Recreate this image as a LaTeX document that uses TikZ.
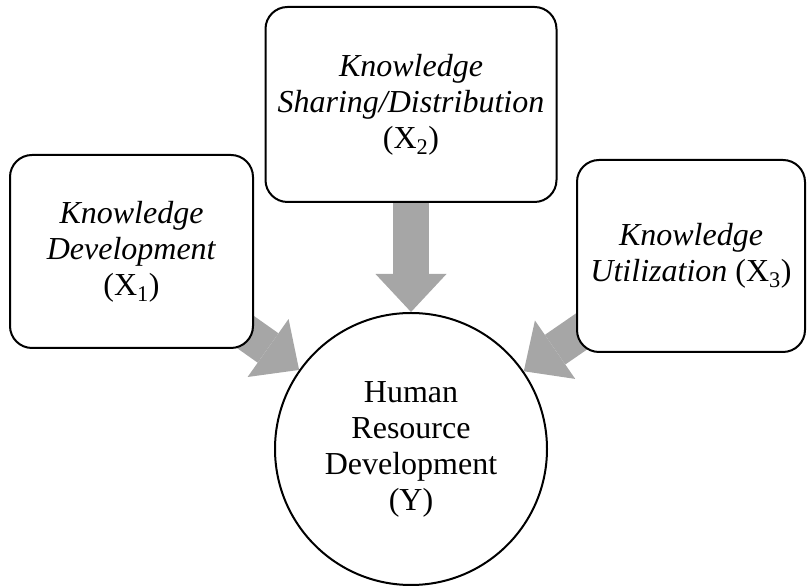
\documentclass[tikz,border=0pt]{standalone}
\usepackage{fontspec}
\setmainfont{Liberation Serif}
\usetikzlibrary{arrows.meta,backgrounds}
\definecolor{FlowGray}{RGB}{166,166,166}
\tikzset{
  Factor/.style={draw,line width=2pt,rounded corners=22pt,fill=white,align=center,font=\fontsize{32}{36}\selectfont},
  Outcome/.style={draw,circle,line width=2pt,fill=white,minimum size=272pt,inner sep=0pt,align=center,font=\fontsize{32}{36}\selectfont},
  Flow/.style={FlowGray,line width=36pt,-{Triangle[width=71pt,length=38pt,line width=0pt]}}
}

\begin{document}
\begin{tikzpicture}[x=1pt,y=1pt]
\useasboundingbox (0,0) rectangle (807,586);
\node[Factor,minimum width=243pt,minimum height=193pt] (KnowledgeDevelopment) at (131.5,334.5) {\textit{Knowledge}\\\textit{Development}\\(X\textsubscript{1})};
\node[Factor,minimum width=291pt,minimum height=195pt] (KnowledgeSharing) at (411,481.5) {\textit{Knowledge}\\\textit{Sharing/Distribution}\\(X\textsubscript{2})};
\node[Factor,minimum width=228pt,minimum height=192pt] (KnowledgeUtilization) at (691,330) {\textit{Knowledge}\\\textit{Utilization} (X\textsubscript{3})};
\node[Outcome] (HumanResourceDevelopment) at (411,137) {Human\\Resource\\Development\\(Y)};
\begin{scope}[on background layer]
\draw[Flow] (KnowledgeDevelopment.center) -- (HumanResourceDevelopment);
\draw[Flow] (KnowledgeSharing.center) -- (HumanResourceDevelopment);
\draw[Flow] (KnowledgeUtilization.center) -- (HumanResourceDevelopment);
\end{scope}
\end{tikzpicture}
\end{document}
